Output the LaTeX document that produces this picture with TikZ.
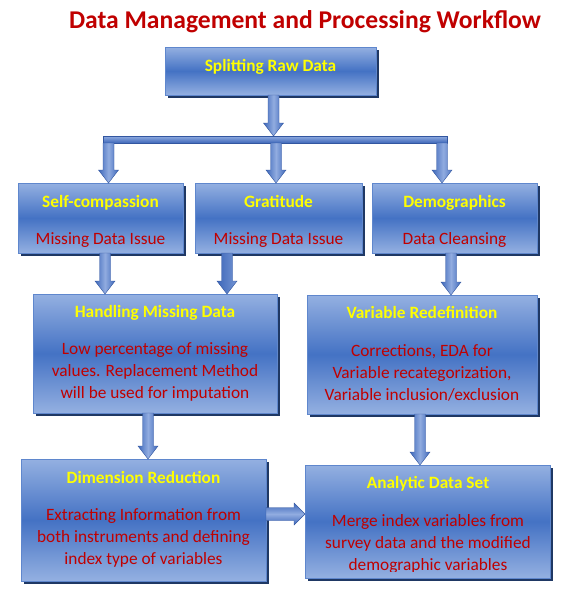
\documentclass[tikz,border=0pt]{standalone}
\usepackage{fontspec}
\setmainfont{Carlito}
\usetikzlibrary{shadows,calc}
\definecolor{boxlight}{RGB}{148,176,225}
\definecolor{boxdark}{RGB}{68,114,196}
\definecolor{boxline}{RGB}{95,135,205}
\definecolor{shadowc}{RGB}{31,56,100}
\definecolor{arrdark}{RGB}{62,104,186}
\definecolor{arrlight}{RGB}{145,172,224}
\definecolor{arredge}{RGB}{50,86,160}
\definecolor{titlered}{RGB}{192,0,0}
\definecolor{ylw}{RGB}{255,255,0}
\begin{document}
\begin{tikzpicture}[x=1pt,y=-1pt,
  box/.style={top color=boxlight, bottom color=boxlight, middle color=boxdark,
    draw=boxline, line width=0.8pt,
    general shadow={fill=shadowc, shadow xshift=2.5pt, shadow yshift=-2.5pt},
    inner sep=0pt, outer sep=0pt},
  hd/.style={font=\fontsize{17.3}{21}\selectfont\bfseries, text=ylw, anchor=base, inner sep=0pt},
  body/.style={font=\fontsize{17.3}{22}\selectfont, text=titlered, anchor=base, align=center, inner sep=0pt},
  ttl/.style={font=\fontsize{25.6}{30}\selectfont\bfseries, text=titlered, anchor=base, inner sep=0pt},
  varrow/.style={left color=arrdark, right color=arrdark, middle color=arrlight,
    draw=arredge, line width=0.4pt,
    to path={let \p1=(\tikztostart), \p2=(\tikztotarget) in
      ({\x1+(#1)-5.5pt},\y1) -- ({\x1+(#1)+5.5pt},\y1) -- ({\x1+(#1)+5.5pt},{\y2+13pt})
      -- ({\x1+(#1)+10pt},{\y2+13pt}) -- ({\x1+(#1)},\y2) -- ({\x1+(#1)-10pt},{\y2+13pt})
      -- ({\x1+(#1)-5.5pt},{\y2+13pt}) -- cycle}},
  harrow/.style={top color=arrdark, bottom color=arrdark, middle color=arrlight,
    draw=arredge, line width=0.4pt,
    to path={let \p1=(\tikztostart), \p2=(\tikztotarget) in
      (\x1,{\y1+(#1)+6.5pt}) -- ({\x2-11pt},{\y1+(#1)+6.5pt}) -- ({\x2-11pt},{\y1+(#1)+11pt})
      -- (\x2,{\y1+(#1)}) -- ({\x2-11pt},{\y1+(#1)-11pt}) -- ({\x2-11pt},{\y1+(#1)-6.5pt})
      -- (\x1,{\y1+(#1)-6.5pt}) -- cycle}}
]
\fill[white] (0,0) rectangle (562,592);
\useasboundingbox (0,0) rectangle (562,592);

\node[ttl] (title) at (305,28) {Data Management and Processing Workflow};

% boxes
\node[box, minimum width=211pt, minimum height=48pt] (split) at (270.5,71) {};
\node[top color=arrlight, bottom color=arrdark, draw=arredge, line width=0.4pt, inner sep=0pt, outer sep=0pt,
      minimum width=344pt, minimum height=7pt] (bar) at (275,139.5) {};
\node[box, minimum width=165pt, minimum height=70pt] (sc) at (100.5,218) {};
\node[box, minimum width=167pt, minimum height=70pt] (gr) at (278.5,218) {};
\node[box, minimum width=165pt, minimum height=70pt] (dm) at (454.5,218) {};
\node[box, minimum width=244pt, minimum height=119pt] (hm) at (155,353.5) {};
\node[box, minimum width=230pt, minimum height=119pt] (vr) at (422,354.5) {};
\node[box, minimum width=245pt, minimum height=122pt] (dr) at (143.5,520) {};
\node[box, minimum width=245pt, minimum height=113pt] (ad) at (427.5,521.5) {};

% texts
\node[hd] (splitT) at (270.5,71) {Splitting Raw Data};
\node[hd] (scT) at (100.5,207) {Self-compassion};
\node[body] (scB) at (100.5,244) {Missing Data Issue};
\node[hd] (grT) at (278.5,207) {Gratitude};
\node[body] (grB) at (278.5,244) {Missing Data Issue};
\node[hd] (dmT) at (454.5,207) {Demographics};
\node[body] (dmB) at (454.5,244) {Data Cleansing};
\node[hd] (hmT) at (155,317) {Handling Missing Data};
\node[body] (hmB) at (155,398) {Low percentage of missing\\values. Replacement Method\\will be used for imputation};
\node[hd] (vrT) at (422,318) {Variable Redefinition};
\node[body] (vrB) at (422,400) {Corrections, EDA for\\Variable recategorization,\\Variable inclusion/exclusion};
\node[hd] (drT) at (143.5,483) {Dimension Reduction};
\node[body] (drB) at (143.5,564) {Extracting Information from\\both instruments and defining\\index type of variables};
\node[hd] (adT) at (428,488) {Analytic Data Set};
\begin{scope}
  \clip (ad.north west) rectangle ([yshift=7pt]ad.south east);
  \node[body] (adB) at (428,570) {Merge index variables from\\survey data and the modified\\demographic variables};
\end{scope}

% connectors
\path[varrow=3pt] (split.south) to (bar.north);
\path[varrow=8pt] (bar.south -| sc.north) to (sc.north);
\path[varrow=-2.5pt] (bar.south -| gr.north) to (gr.north);
\path[varrow=-12.5pt] (bar.south -| dm.north) to (dm.north);
\path[varrow=4.5pt] (sc.south) to (hm.north);
\path[varrow=-51.5pt] (gr.south) to (hm.north);
\path[varrow=-3.5pt] (dm.south) to (vr.north);
\path[varrow=-7pt] (hm.south) to (dr.north);
\path[varrow=-2pt] (vr.south) to (ad.north);
\path[harrow=6pt] (dr.east) to (ad.west);
\end{tikzpicture}
\end{document}
